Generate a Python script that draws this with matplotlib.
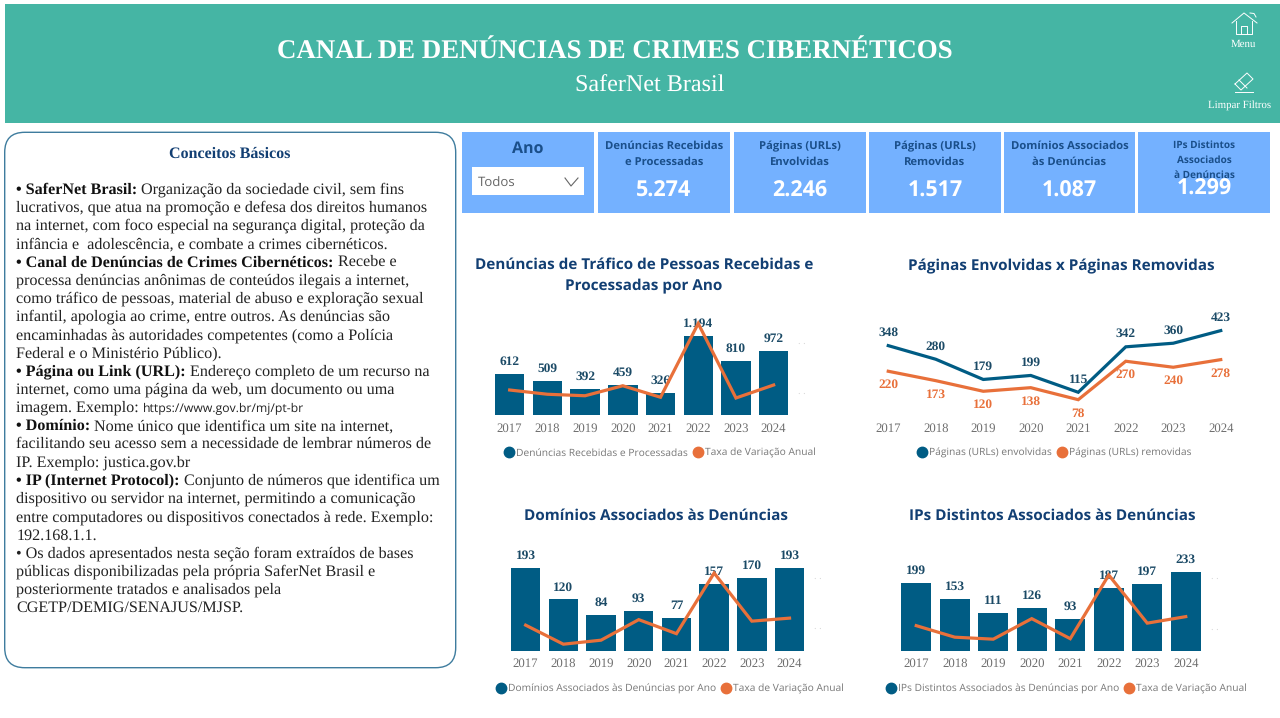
import matplotlib
matplotlib.use('Agg')
import matplotlib.pyplot as plt
from matplotlib.lines import Line2D
from matplotlib.patches import FancyBboxPatch, Rectangle

plt.rcParams['text.hinting'] = 'no_hinting'

W, H = 1280, 718
SERIF = 'Liberation Serif'
SANS = 'Open Sans'
BAR = '#005C84'
ORANGE = '#E8703A'
NAVY = '#123F73'
CARD_TXT = '#1A4F8A'
GRAY = '#6F6F6F'

anos = ['2017', '2018', '2019', '2020', '2021', '2022', '2023', '2024']

denuncias = [612, 509, 392, 459, 326, 1194, 810, 972]
taxa_denuncias = [0, -17, -23, 17, -29, 266, -32, 20]

paginas_env = [348, 280, 179, 199, 115, 342, 360, 423]
paginas_rem = [220, 173, 120, 138, 78, 270, 240, 278]

dominios = [193, 120, 84, 93, 77, 157, 170, 193]
taxa_dominios = [0, -38, -30, 11, -17, 104, 8, 14]

ips = [199, 153, 111, 126, 93, 187, 197, 233]
taxa_ips = [0, -23, -27, 14, -26, 101, 5, 18]

card_titulos = [
	['Denúncias Recebidas', 'e Processadas'],
	['Páginas (URLs)', 'Envolvidas'],
	['Páginas (URLs)', 'Removidas'],
	['Domínios Associados', 'às Denúncias'],
]
card_valores = ['5.274', '2.246', '1.517', '1.087', '1.299']

# (negrito, resto) - uma tupla por linha do painel
conceitos = [
	('• SaferNet Brasil:', 'Organização da sociedade civil, sem fins'),
	('', 'lucrativos, que atua na promoção e defesa dos direitos humanos'),
	('', 'na internet, com foco especial na segurança digital, proteção da'),
	('', 'infância e  adolescência, e combate a crimes cibernéticos.'),
	('• Canal de Denúncias de Crimes Cibernéticos:', 'Recebe e'),
	('', 'processa denúncias anônimas de conteúdos ilegais a internet,'),
	('', 'como tráfico de pessoas, material de abuso e exploração sexual'),
	('', 'infantil, apologia ao crime, entre outros. As denúncias são'),
	('', 'encaminhadas às autoridades competentes (como a Polícia'),
	('', 'Federal e o Ministério Público).'),
	('• Página ou Link (URL):', 'Endereço completo de um recurso na'),
	('', 'internet, como uma página da web, um documento ou uma'),
	('', 'imagem. Exemplo:'),
	('• Domínio:', 'Nome único que identifica um site na internet,'),
	('', 'facilitando seu acesso sem a necessidade de lembrar números de'),
	('', 'IP. Exemplo: justica.gov.br'),
	('• IP (Internet Protocol):', 'Conjunto de números que identifica um'),
	('', 'dispositivo ou servidor na internet, permitindo a comunicação'),
	('', 'entre computadores ou dispositivos conectados à rede. Exemplo:'),
	('', '192.168.1.1.'),
	('', '• Os dados apresentados nesta seção foram extraídos de bases'),
	('', 'públicas disponibilizadas pela própria SaferNet Brasil e'),
	('', 'posteriormente tratados e analisados pela'),
	('', 'CGETP/DEMIG/SENAJUS/MJSP.'),
]


def px_axes(fig, left, top, right, bottom):
	return fig.add_axes([left / W, 1 - bottom / H, (right - left) / W, (bottom - top) / H])


def br(v):
	return f'{v:,}'.replace(',', '.')


def style_axes(ax):
	for s in ax.spines.values():
		s.set_visible(False)
	ax.patch.set_visible(False)
	ax.set_yticks([])
	ax.set_xticks(range(len(anos)))
	ax.set_xticklabels(anos, family=SERIF, fontsize=9.2, color=GRAY)
	ax.tick_params(axis='x', length=0, pad=5.5)
	ax.set_xlim(-0.5, len(anos) - 0.5)


def legenda(ax, x, y, itens):
	handles = [Line2D([], [], linestyle='', marker='o', markersize=7.5, color=c, label=t) for t, c in itens]
	ax.legend(handles=handles, loc='center', bbox_to_anchor=(x / W, 1 - y / H), bbox_transform=ax.figure.transFigure,
		frameon=False, ncol=2, columnspacing=0.3, handletextpad=0.0, handlelength=1.35, borderpad=0,
		prop={'family': SANS, 'size': 7.4}, labelcolor='#777777')


def barras(fig, box, valores, taxas, ymax, tx_lim, tx_ticks, leg, leg_pos):
	ax = px_axes(fig, *box)
	style_axes(ax)
	ax.bar(range(len(anos)), valores, width=0.78, color=BAR)
	ax.set_ylim(0, ymax)
	for i, v in enumerate(valores):
		ax.annotate(br(v), (i, v), xytext=(0, 8.8), textcoords='offset points', ha='center', va='center',
			family=SERIF, weight='bold', fontsize=9.6, color='#1B4A66', annotation_clip=False)
	ax2 = ax.twinx()
	ax2.patch.set_visible(False)
	for s in ax2.spines.values():
		s.set_visible(False)
	ax2.plot(range(len(anos)), taxas, color=ORANGE, lw=2.3, solid_joinstyle='miter')
	ax2.set_ylim(*tx_lim)
	ax2.set_yticks(tx_ticks)
	ax2.set_yticklabels(['. .'] * len(tx_ticks), family=SANS, fontsize=7, color='#D5D5D5')
	ax2.tick_params(axis='y', length=0, pad=4)
	legenda(ax2, leg_pos[0], leg_pos[1], leg)
	return ax


fig = plt.figure(figsize=(W / 100, H / 100), dpi=100, facecolor='white')
bg = fig.add_axes([0, 0, 1, 1])
bg.set_xlim(0, W)
bg.set_ylim(H, 0)
bg.axis('off')

# cabecalho
bg.add_patch(Rectangle((5, 4), 1275, 119, color='#45B5A4', lw=0))
bg.text(615, 52, 'CANAL DE DENÚNCIAS DE CRIMES CIBERNÉTICOS', family=SERIF, weight='bold', fontsize=19.4,
	color='white', ha='center', va='center')
bg.text(650, 86, 'SaferNet Brasil', family=SERIF, fontsize=17.4, color='white', ha='center', va='center')
bg.text(1243, 44, 'Menu', family=SERIF, fontsize=7.8, color='white', ha='center', va='center')
bg.text(1239.5, 105, 'Limpar Filtros', family=SERIF, fontsize=7.8, color='white', ha='center', va='center')

# icones
bg.plot([1232, 1244, 1257], [23, 13, 23], color='white', lw=0.7)
bg.plot([1236, 1236, 1252, 1252], [21, 34, 34, 21], color='white', lw=0.7)
bg.plot([1241, 1241, 1247, 1247], [34, 26, 26, 34], color='white', lw=0.7)
bg.plot([1250, 1254, 1256], [13, 13.5, 17], color='white', lw=0.7)
bg.plot([1235, 1247, 1253, 1241, 1235], [84, 73, 79, 90, 84], color='white', lw=0.7)
bg.plot([1239, 1247], [80, 88], color='white', lw=0.7)
bg.plot([1235, 1253], [92, 92], color='white', lw=0.7)

# cartoes
cards_x = [(462, 594), (598, 730), (734, 866), (869, 1001), (1004, 1135), (1138, 1270)]
for x0, x1 in cards_x:
	bg.add_patch(Rectangle((x0, 132), x1 - x0, 81, color='#74B1FF', lw=0))
bg.text(528, 149, 'Ano', family=SANS, weight='bold', fontsize=11.5, color=CARD_TXT, ha='center', va='center')
bg.add_patch(Rectangle((472, 167), 112, 28, color='white', lw=0))
bg.text(478, 183, 'Todos', family=SANS, fontsize=9.5, color='#666666', ha='left', va='center')
bg.plot([565, 571, 578], [178, 186, 178], color='#666666', lw=0.8)

for (x0, x1), linhas, valor in zip(cards_x[1:5], card_titulos, card_valores[:4]):
	xc = (x0 + x1) / 2
	bg.text(xc, 146, linhas[0], family=SANS, weight='bold', fontsize=8.1, color=CARD_TXT, ha='center', va='center')
	bg.text(xc, 162, linhas[1], family=SANS, weight='bold', fontsize=8.1, color=CARD_TXT, ha='center', va='center')
	bg.text(xc, 191, valor, family=SANS, weight='bold', fontsize=15.5, color='white', ha='center', va='center')
for y, t in zip([145, 160, 175], ['IPs Distintos', 'Associados', 'à Denúncias']):
	bg.text(1204, y, t, family=SANS, weight='bold', fontsize=7.2, color=CARD_TXT, ha='center', va='center')
bg.text(1204, 189, card_valores[4], family=SANS, weight='bold', fontsize=15.5, color='white', ha='center', va='center')

# painel de texto
bg.add_patch(FancyBboxPatch((4.7, 132.3), 451, 535.4, boxstyle='round,pad=0,rounding_size=20',
	facecolor='white', edgecolor='#3E7C9E', lw=1.0))
bg.text(230, 154, 'Conceitos Básicos', family=SERIF, weight='bold', fontsize=11.5, color=NAVY, ha='center', va='center')

fig.canvas.draw()
rend = fig.canvas.get_renderer()
y = 193.5
for bold, rest in conceitos:
	x = 16.5
	if bold:
		t = bg.text(x, y, bold, family=SERIF, weight='bold', fontsize=11.65, color='#111111', ha='left', va='baseline')
		x += t.get_window_extent(rend).width + 3.7
	t = bg.text(x, y, rest, family=SERIF, fontsize=11.65, color='#222222', ha='left', va='baseline')
	if rest == 'imagem. Exemplo:':
		x += t.get_window_extent(rend).width + 3.7
		bg.text(x, y, 'https://www.gov.br/mj/pt-br', family=SANS, fontsize=8.8, color='#222222', ha='left', va='baseline')
	y += 18.2

# titulos dos graficos
tit = dict(family=SANS, weight='bold', fontsize=11, color=NAVY, ha='center', va='center')
bg.text(644, 265, 'Denúncias de Tráfico de Pessoas Recebidas e', **tit)
bg.text(644, 287, 'Processadas por Ano', **tit)
bg.text(1061, 266, 'Páginas Envolvidas x Páginas Removidas', **tit)
bg.text(656, 516, 'Domínios Associados às Denúncias', **tit)
bg.text(1052, 516, 'IPs Distintos Associados às Denúncias', **tit)

barras(fig, (490.8, 320, 792.5, 415), denuncias, taxa_denuncias, 1433, (-100, 280), [0, 200],
	[('Denúncias Recebidas e Processadas', BAR), ('Taxa de Variação Anual', ORANGE)], (659, 453))
barras(fig, (506.8, 550, 808.4, 650.7), dominios, taxa_dominios, 236, (-51, 150), [0, 100],
	[('Domínios Associados às Denúncias por Ano', BAR), ('Taxa de Variação Anual', ORANGE)], (669, 689))
barras(fig, (897, 550, 1205, 650.7), ips, taxa_ips, 298, (-50, 151), [0, 100],
	[('IPs Distintos Associados às Denúncias por Ano', BAR), ('Taxa de Variação Anual', ORANGE)], (1065.5, 689))

# paginas envolvidas x removidas
ax = px_axes(fig, 864.5, 320, 1244.5, 415.3)
style_axes(ax)
ax.plot(range(len(anos)), paginas_env, color=BAR, lw=2.3, solid_joinstyle='miter')
ax.plot(range(len(anos)), paginas_rem, color=ORANGE, lw=2.3, solid_joinstyle='miter')
ax.set_ylim(0, 476)
for i, (a, b) in enumerate(zip(paginas_env, paginas_rem)):
	ax.annotate(br(a), (i, a), xytext=(0, 9.2), textcoords='offset points', ha='center', va='center', family=SERIF,
		weight='bold', fontsize=9.6, color='#1B4A66', annotation_clip=False)
	ax.annotate(br(b), (i, b), xytext=(0, -9.8), textcoords='offset points', ha='center', va='center', family=SERIF,
		weight='bold', fontsize=9.6, color=ORANGE, annotation_clip=False)
legenda(ax, 1053, 453, [('Páginas (URLs) envolvidas', BAR), ('Páginas (URLs) removidas', ORANGE)])

fig.savefig('out.png', dpi=100)
